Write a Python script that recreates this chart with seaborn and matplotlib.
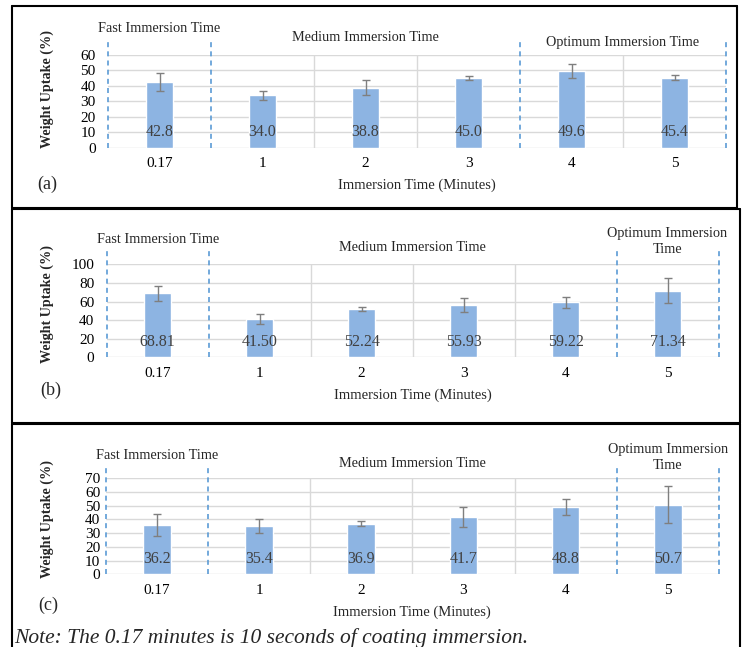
import numpy as np
import matplotlib
matplotlib.use("Agg")
import matplotlib.pyplot as plt
from matplotlib.lines import Line2D
import seaborn as sns

# data
times = ["0.17", "1", "2", "3", "4", "5"]

uptake_a = [42.8, 34.0, 38.8, 45.0, 49.6, 45.4]
err_a = [5.8, 3.0, 4.8, 1.5, 4.7, 1.8]
labels_a = ["42.8", "34.0", "38.8", "45.0", "49.6", "45.4"]

uptake_b = [68.81, 41.50, 52.24, 55.93, 59.22, 71.34]
err_b = [8.2, 5.4, 2.1, 7.7, 5.8, 13.4]
labels_b = ["68.81", "41.50", "52.24", "55.93", "59.22", "71.34"]

uptake_c = [36.2, 35.4, 36.9, 41.7, 48.8, 50.7]
err_c = [8.0, 5.1, 1.8, 7.2, 5.8, 13.4]
labels_c = ["36.2", "35.4", "36.9", "41.7", "48.8", "50.7"]

sns.set_style("white")
plt.rcParams["font.family"] = ["Liberation Serif", "DejaVu Serif"]

W, H = 744, 647
fig = plt.figure(figsize=(W / 100, H / 100), dpi=100)

bar_color = "#8db4e2"
dash_color = "#5b9bd5"
grid_color = "#d9d9d9"


def px_axes(left, right, top, bottom):
    return fig.add_axes([left / W, 1 - bottom / H, (right - left) / W, (bottom - top) / H])


def panel(ax, vals, errs, labels, ymax, ystep, dashed, greys, groups, dash_top, ypad,
          tag, ylab_pos, tag_pos):
    sns.barplot(x=times, y=vals, ax=ax, color=bar_color, width=0.27, saturation=1)
    ax.errorbar(range(len(times)), vals, yerr=errs, fmt="none", ecolor="#7f7f7f",
                elinewidth=1, capsize=3, capthick=1, zorder=4)
    for i, lab in enumerate(labels):
        ax.annotate(lab, (i, 0), xytext=(0, 11), textcoords="offset points",
                    ha="center", va="center", fontsize=11.5, color="#404040", zorder=5)
    ax.set_xlim(-0.5, len(times) - 0.5)
    ax.set_ylim(0, ymax)
    ax.set_yticks(np.arange(0, ymax + 1, ystep))
    ax.yaxis.grid(True, color=grid_color, linewidth=1)
    ax.set_axisbelow(True)
    for x in greys:
        ax.axvline(x, color=grid_color, linewidth=1, zorder=0)
    for x in dashed:
        ax.plot([x, x], [0, ymax * dash_top], color=dash_color, linestyle=(0, (3, 2.5)),
                linewidth=1.2, clip_on=False, zorder=3)
    for name, x, yf in groups:
        ax.text(x, ymax * yf, name, ha="center", va="center", fontsize=10.3,
                linespacing=1.3)
    for s in ax.spines.values():
        s.set_visible(False)
    ax.tick_params(axis="both", length=0, labelsize=11, colors="black")
    ax.tick_params(axis="y", pad=ypad)
    ax.tick_params(axis="x", pad=7)
    ax.set_xlabel("Immersion Time (Minutes)", fontsize=10.5, labelpad=6)
    ax.set_ylabel("Weight Uptake (%)", fontsize=10.2, fontweight="bold", va="center")
    ax.yaxis.set_label_coords(*ylab_pos)
    ax.text(tag_pos[0], tag_pos[1], tag, transform=ax.transAxes, fontsize=13,
            ha="center", va="center")


ax_a = px_axes(108, 726, 55, 147.7)
panel(ax_a, uptake_a, err_a, labels_a, 60, 10,
      [-0.5, 0.5, 3.5, 5.5], [1.5, 2.5, 4.5],
      [("Fast Immersion Time", 0, 1.29), ("Medium Immersion Time", 2, 1.194),
       ("Optimum Immersion Time", 4.5, 1.13)], 1.162, 9, "(a)",
      (-0.099, 0.628), (-0.099, -0.39))

ax_b = px_axes(106.7, 718.5, 264.3, 357.3)
panel(ax_b, uptake_b, err_b, labels_b, 100, 20,
      [-0.5, 0.5, 4.5, 5.5], [1.5, 2.5, 3.5],
      [("Fast Immersion Time", 0, 1.272), ("Medium Immersion Time", 2.5, 1.186),
       ("Optimum Immersion\nTime", 5, 1.243)], 1.175, 9, "(b)",
      (-0.097, 0.573), (-0.092, -0.36))

ax_c = px_axes(105.7, 719, 478.3, 574.3)
panel(ax_c, uptake_c, err_c, labels_c, 70, 10,
      [-0.5, 0.5, 4.5, 5.5], [1.5, 2.5, 3.5],
      [("Fast Immersion Time", 0, 1.24), ("Medium Immersion Time", 2.5, 1.157),
       ("Optimum Immersion\nTime", 5, 1.217)], 1.128, 4, "(c)",
      (-0.095, 0.576), (-0.093, -0.32))

# panel frames (pixel coordinates)
def frame_line(x0, y0, x1, y1):
    fig.add_artist(Line2D([x0 / W, x1 / W], [1 - y0 / H, 1 - y1 / H],
                          color="black", linewidth=1.5, transform=fig.transFigure))

for top, bottom, right, closed in [(6, 208, 737, True), (209, 423, 740, True), (424, 647, 740, False)]:
    frame_line(12, top, right, top)
    frame_line(12, top, 12, bottom)
    frame_line(right, top, right, bottom)
    if closed:
        frame_line(12, bottom, right, bottom)

fig.text(14 / W, 1 - 638 / H, "Note: The 0.17 minutes is 10 seconds of coating immersion.",
         fontsize=15.5, fontstyle="italic", ha="left", va="center")

fig.savefig("out.png", dpi=100)
